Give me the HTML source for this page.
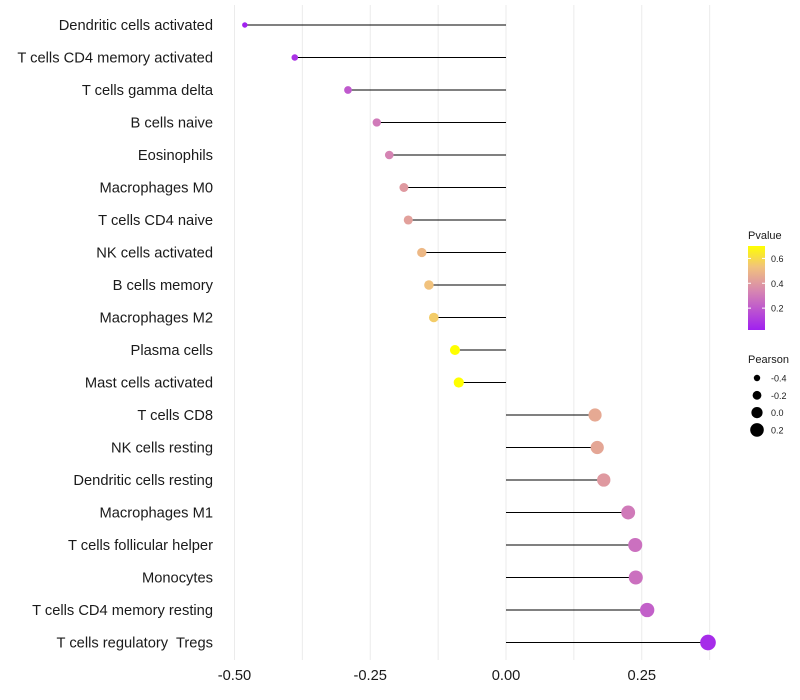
<!DOCTYPE html>
<html><head><meta charset="utf-8"><style>
body{margin:0;background:#fff;font-family:"Liberation Sans",sans-serif;}
svg{display:block}
text{white-space:pre}
</style></head><body>
<svg id="c" width="800" height="700"></svg>
<script>
const categories=["Dendritic cells activated","T cells CD4 memory activated","T cells gamma delta","B cells naive","Eosinophils","Macrophages M0","T cells CD4 naive","NK cells activated","B cells memory","Macrophages M2","Plasma cells","Mast cells activated","T cells CD8","NK cells resting","Dendritic cells resting","Macrophages M1","T cells follicular helper","Monocytes","T cells CD4 memory resting","T cells regulatory  Tregs"];
const pearson=[-0.481,-0.389,-0.291,-0.238,-0.215,-0.188,-0.180,-0.155,-0.142,-0.133,-0.094,-0.087,0.164,0.168,0.180,0.225,0.238,0.239,0.260,0.372];
const pvalue=[0.03,0.08,0.2,0.3,0.33,0.4,0.42,0.5,0.53,0.56,0.7,0.72,0.45,0.44,0.4,0.3,0.27,0.27,0.22,0.06];
const xTicks=[-0.5,-0.25,0,0.25];
const xTickLabels=["-0.50","-0.25","0.00","0.25"];
const pTicks=[0.2,0.4,0.6];
const sizeLegend=[-0.4,-0.2,0.0,0.2];
const NS="http://www.w3.org/2000/svg";
const svg=document.getElementById('c');
const x=v=>506+v*543;
const y=i=>25+i*32.5;
const pMin=0.024,pMax=0.70;
const stops=[[0,[160,32,240]],[0.45,[213,131,179]],[0.75,[241,194,125]],[1,[255,255,0]]];
function col(p){let t=Math.max(0,Math.min(1,(p-pMin)/(pMax-pMin)));for(let k=0;k<stops.length-1;k++){const a=stops[k],b=stops[k+1];if(t<=b[0]){const f=(t-a[0])/(b[0]-a[0]);const c=a[1].map((v,j)=>Math.round(v+(b[1][j]-v)*f));return `rgb(${c})`;}}return 'rgb(255,255,0)';}
const rad=v=>Math.max(1.6,3.2+(v+0.4)*6);
function el(t,a,txt){const e=document.createElementNS(NS,t);for(const k in a)e.setAttribute(k,a[k]);if(txt!=null)e.textContent=txt;svg.appendChild(e);return e;}
for(let v=-0.5;v<=0.376;v+=0.125){const g=el('line',{x1:x(v),x2:x(v),y1:5,y2:660,stroke:'#ebebeb','stroke-width':1});

}
categories.forEach((c,i)=>{
const t=el('text',{x:213,y:y(i)+5,'text-anchor':'end','font-size':14.7,fill:'#1a1a1a'},c);


const l=el('line',{x1:x(0),x2:x(pearson[i]),y1:y(i),y2:y(i),stroke:'#000','stroke-width':1});


const p=el('circle',{cx:x(pearson[i]),cy:y(i),r:rad(pearson[i]),fill:col(pvalue[i])});


});
xTicks.forEach((v,i)=>{const t=el('text',{x:x(v),y:680,'text-anchor':'middle','font-size':14.7,fill:'#1a1a1a'},xTickLabels[i]);

});
const lt=el('text',{x:748,y:239,'font-size':11,fill:'#1a1a1a'},'Pvalue');


const defs=el('defs',{});const lg=document.createElementNS(NS,'linearGradient');lg.setAttribute('id','gr');lg.setAttribute('x1',0);lg.setAttribute('y1',1);lg.setAttribute('x2',0);lg.setAttribute('y2',0);
stops.forEach(s=>{const st=document.createElementNS(NS,'stop');st.setAttribute('offset',s[0]);st.setAttribute('stop-color',`rgb(${s[1]})`);lg.appendChild(st);});defs.appendChild(lg);
const cb=el('rect',{x:748,y:246,width:17,height:84,fill:'url(#gr)'});


const py=p=>330-(p-pMin)/(pMax-pMin)*84;
pTicks.forEach(p=>{el('line',{x1:748,x2:751,y1:py(p),y2:py(p),stroke:'#fff'});el('line',{x1:762,x2:765,y1:py(p),y2:py(p),stroke:'#fff'});
const t=el('text',{x:771,y:py(p)+3.5,'font-size':9,fill:'#1a1a1a'},p.toFixed(1));

});
const st2=el('text',{x:748,y:363,'font-size':11,fill:'#1a1a1a'},'Pearson');


sizeLegend.forEach((v,i)=>{const cy=378+i*17.3;
const c=el('circle',{cx:757,cy:cy,r:rad(v),fill:'#000'});


const t=el('text',{x:771,y:cy+3.5,'font-size':9,fill:'#1a1a1a'},v.toFixed(1));

});
</script>
</body></html>
